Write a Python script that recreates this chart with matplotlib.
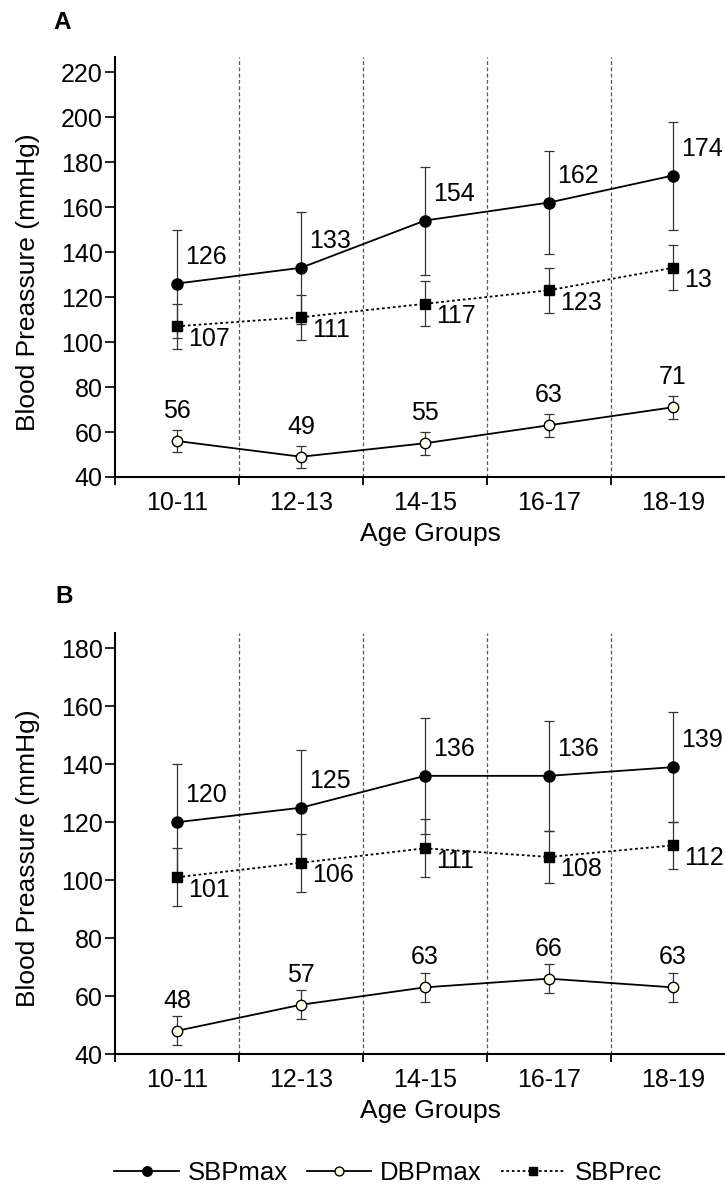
import matplotlib
matplotlib.use("Agg")
import matplotlib.pyplot as plt
from matplotlib.transforms import Bbox

plt.rcParams['font.family'] = ['Liberation Sans', 'DejaVu Sans']

ages = ['10-11', '12-13', '14-15', '16-17', '18-19']

# panel A
sbp_max_a = [126, 133, 154, 162, 174]
sbp_max_a_err = [24, 25, 24, 23, 24]
dbp_max_a = [56, 49, 55, 63, 71]
dbp_max_a_err = [5, 5, 5, 5, 5]
sbp_rec_a = [107, 111, 117, 123, 133]
sbp_rec_a_err = [10, 10, 10, 10, 10]
yticks_a = [40, 60, 80, 100, 120, 140, 160, 180, 200, 220]

# panel B
sbp_max_b = [120, 125, 136, 136, 139]
sbp_max_b_err = [20, 20, 20, 19, 19]
dbp_max_b = [48, 57, 63, 66, 63]
dbp_max_b_err = [5, 5, 5, 5, 5]
sbp_rec_b = [101, 106, 111, 108, 112]
sbp_rec_b_err = [10, 10, 10, 9, 8]
yticks_b = [40, 60, 80, 100, 120, 140, 160, 180]

W, H = 725, 1186
fig = plt.figure(figsize=(W / 100, H / 100), dpi=100)
all_texts = []


def draw_panel(ax, smax, smax_err, dmax, dmax_err, srec, srec_err, yticks, ytop):
    x = list(range(len(ages)))
    for b in [0.5, 1.5, 2.5, 3.5]:
        ax.axvline(b, color='#555555', lw=0.9, ls=(0, (3, 2)), zorder=0)

    for vals, err in [(smax, smax_err), (dmax, dmax_err), (srec, srec_err)]:
        ax.errorbar(x, vals, yerr=err, fmt='none', ecolor='#333333',
                    elinewidth=0.9, capsize=3.6, capthick=0.9, zorder=2)

    l1, = ax.plot(x, smax, '-', color='black', lw=1.3, marker='o', ms=8,
                  mfc='black', mec='black', zorder=3, label='SBPmax')
    l2, = ax.plot(x, dmax, '-', color='black', lw=1.3, marker='o', ms=7.5,
                  mfc='#fffff0', mec='black', mew=1.0, zorder=3, label='DBPmax')
    l3, = ax.plot(x, srec, color='black', lw=1.3, ls=(0, (1.5, 1.5)), marker='s',
                  ms=6.5, mfc='black', mec='black', zorder=3, label='SBPrec')

    for xi, v in zip(x, smax):
        all_texts.append(ax.annotate(str(v), (xi, v), xytext=(5.8, 14.4), textcoords='offset points',
                                     ha='left', va='baseline', fontsize=18))
    for xi, v in zip(x, srec):
        all_texts.append(ax.annotate(str(v), (xi, v), xytext=(8.3, -14.0), textcoords='offset points',
                                     ha='left', va='baseline', fontsize=18))
    for xi, v in zip(x, dmax):
        all_texts.append(ax.annotate(str(v), (xi, v), xytext=(0, 16.6), textcoords='offset points',
                                     ha='center', va='baseline', fontsize=18))

    ax.set_xlim(-0.5, 4.42)
    ax.set_ylim(40, ytop)
    ax.set_yticks(yticks)
    ax.set_xticks(x)
    ax.set_xticklabels(ages)
    ax.set_xticks([-0.5, 0.5, 1.5, 2.5, 3.5], minor=True)
    ax.tick_params(axis='x', which='major', length=0, pad=10, labelsize=18)
    ax.tick_params(axis='x', which='minor', length=6, width=1.3, direction='out')
    ax.tick_params(axis='y', length=7, width=1.2, pad=2, labelsize=18)

    for s in ['top', 'right']:
        ax.spines[s].set_visible(False)
    for s in ['left', 'bottom']:
        ax.spines[s].set_linewidth(1.5)

    ax.set_xlabel('Age Groups', fontsize=19)
    ax.xaxis.set_label_coords(0.517, -0.107)
    ax.set_ylabel('Blood Preassure (mmHg)', fontsize=19)
    ax.yaxis.label.set_va('center')
    ax.yaxis.set_label_coords(-0.142, 0.465)
    return [l1, l2, l3]


ax_a = fig.add_axes([115 / W, 1 - 477 / H, 610 / W, 420 / H])
ax_a.patch.set_alpha(0)
handles = draw_panel(ax_a, sbp_max_a, sbp_max_a_err, dbp_max_a, dbp_max_a_err,
                     sbp_rec_a, sbp_rec_a_err, yticks_a, 226.7)

ax_b = fig.add_axes([115 / W, 1 - 1054 / H, 610 / W, 421 / H])
ax_b.patch.set_alpha(0)
draw_panel(ax_b, sbp_max_b, sbp_max_b_err, dbp_max_b, dbp_max_b_err,
           sbp_rec_b, sbp_rec_b_err, yticks_b, 185.3)

fig.text(53 / W, 1 - 29 / H, 'A', fontsize=17.5, fontweight='bold', va='baseline')
fig.text(55 / W, 1 - 603 / H, 'B', fontsize=17.5, fontweight='bold', va='baseline')

fig.legend(handles, ['SBPmax', 'DBPmax', 'SBPrec'], loc='center',
           bbox_to_anchor=(388 / W, 1 - 1173 / H), ncol=3, frameon=False,
           fontsize=18.5, handlelength=2.5, handletextpad=0.35,
           columnspacing=0.75, markerscale=0.85)

# the source figure drops a glyph that does not fit on the page (133 -> "13")
fig.canvas.draw()
r = fig.canvas.get_renderer()
for t in all_texts:
    bb = t.get_window_extent(r)
    if bb.x1 > W:
        n = len(t.get_text())
        cut = bb.x0 + bb.width * (n - 1) / n
        t.set_clip_on(True)
        t.set_clip_box(Bbox([[0, 0], [cut, H]]))

fig.savefig('out.png', dpi=100)
